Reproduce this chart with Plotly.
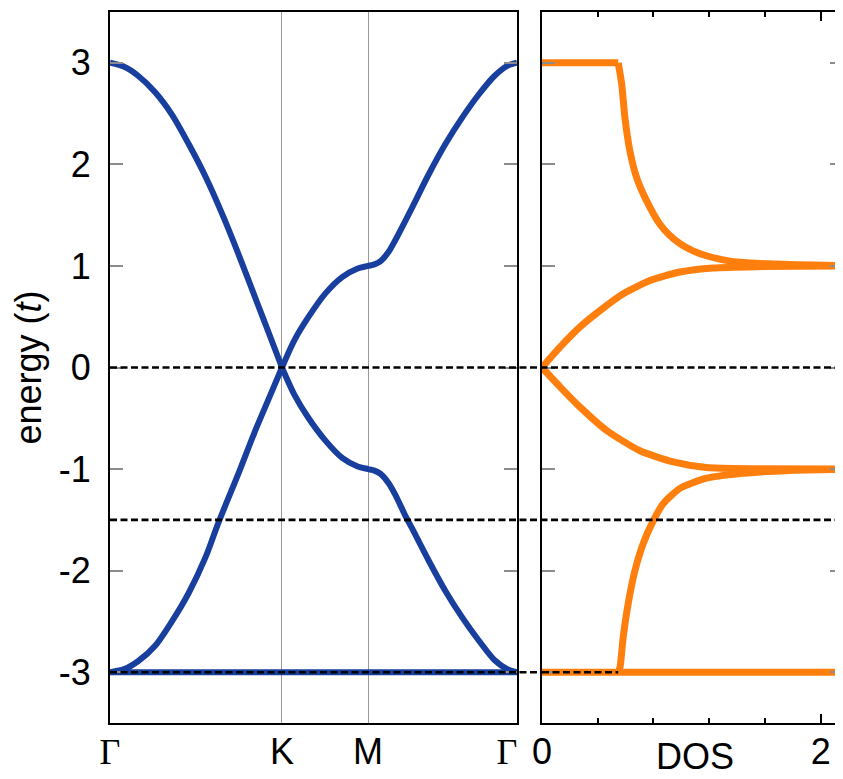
import plotly.graph_objects as go

# page body adds an 8px margin, so the figure is drawn 8px smaller
W, H = 835, 771

# ---- band structure (path Γ-K-M-Γ) ----
k_ticks = [0.0, 1.333, 2.0, 3.155]
k_labels = ["Γ", "K", "M", "Γ"]

k_upper = [0.0, 0.11, 0.22, 0.35, 0.48, 0.61, 0.74, 0.88, 1.01, 1.14, 1.24, 1.333,
           None,
           1.333, 1.43, 1.54, 1.67, 1.80, 1.92, 2.0, 2.05, 2.10, 2.16, 2.21, 2.34, 2.47, 2.60,
           2.73, 2.86, 2.98, 3.08, 3.155]
e_upper = [3.0, 2.96, 2.87, 2.71, 2.49, 2.20, 1.88, 1.48, 1.07, 0.64, 0.31, 0.0,
           None,
           0.0, 0.27, 0.50, 0.73, 0.89, 0.975, 1.0, 1.015, 1.05, 1.14, 1.25, 1.57, 1.90, 2.20,
           2.46, 2.69, 2.87, 2.97, 3.0]

k_middle = [0.0, 0.11, 0.22, 0.35, 0.48, 0.61, 0.74, 0.84, 1.00, 1.12, 1.25, 1.333,
            None,
            1.333, 1.43, 1.54, 1.67, 1.80, 1.92, 2.0, 2.05, 2.10, 2.16, 2.21, 2.29, 2.34, 2.47,
            2.60, 2.73, 2.86, 2.98, 3.08, 3.155]
e_middle = [-3.0, -2.97, -2.89, -2.74, -2.50, -2.22, -1.87, -1.53, -1.03, -0.64, -0.25, 0.0,
            None,
            0.0, -0.27, -0.50, -0.72, -0.89, -0.975, -1.0, -1.015, -1.05, -1.14, -1.25, -1.46, -1.58, -1.90,
            -2.20, -2.46, -2.69, -2.88, -2.97, -3.0]

k_flat = [0.0, 3.155]
e_flat = [-3.0, -3.0]

# ---- density of states ----
dos_x = [0.0, 0.547, None,
         0.547, 0.572, 0.595, 0.631, 0.679, 0.751, 0.846, 0.91, 0.99, 1.08, 1.18, 1.30, 1.42, 1.78, 2.16, None,
         2.16, 1.54, 1.229, 0.99, 0.775, 0.583, 0.416, 0.273, 0.129, 0.0, None,
         0.0, 0.129, 0.273, 0.464, 0.703, 0.942, 1.18, 1.54, 2.16, None,
         2.16, 1.78, 1.42, 1.18, 0.99, 0.87, 0.80, 0.727, 0.667, 0.619, 0.583, 0.56, 0.547]
dos_e = [3.0, 3.0, None,
         3.0, 2.79, 2.46, 2.13, 1.87, 1.64, 1.41, 1.31, 1.22, 1.15, 1.10, 1.06, 1.036, 1.013, 1.003, None,
         1.0, 0.993, 0.98, 0.94, 0.856, 0.725, 0.56, 0.40, 0.20, 0.0, None,
         0.0, -0.19, -0.39, -0.62, -0.82, -0.93, -0.985, -0.997, -1.0, None,
         -1.004, -1.013, -1.045, -1.09, -1.19, -1.34, -1.505, -1.73, -2.0, -2.32, -2.65, -2.95, -3.0]
dos_flat_x = [0.0, 2.16]
dos_flat_e = [-3.0, -3.0]
dos_edge = 0.547

dos_ticks = [0, 2]
dos_ticklabels = ["0", "2"]
dos_minor = [0.4, 0.8, 1.2, 1.6, 2.0]

e_ticks = [-3, -2, -1, 0, 1, 2, 3]
e_ticklabels = ["-3", "-2", "-1", "0", "1", "2", "3"]
dash_levels = [0.0, -1.5]

BLUE = "#183f9e"
ORANGE = "#ff7f0e"
FONT = "Arial, Liberation Sans, Helvetica, sans-serif"
SERIF = "Liberation Serif, Times New Roman, serif"
FS = 36

dom_left = [102 / W, 509 / W]
dom_right = [534 / W, 1.0]
PLOT_H = H - 4 - 56

fig = go.Figure()
fig.add_trace(go.Scatter(x=k_flat, y=e_flat, mode="lines",
                         line=dict(color=BLUE, width=6), xaxis="x", yaxis="y"))
fig.add_trace(go.Scatter(x=k_middle, y=e_middle, mode="lines",
                         line=dict(color=BLUE, width=6, shape="spline", smoothing=0.8),
                         xaxis="x", yaxis="y"))
fig.add_trace(go.Scatter(x=k_upper, y=e_upper, mode="lines",
                         line=dict(color=BLUE, width=6, shape="spline", smoothing=0.8),
                         xaxis="x", yaxis="y"))
fig.add_trace(go.Scatter(x=dos_flat_x, y=dos_flat_e, mode="lines",
                         line=dict(color=ORANGE, width=7), xaxis="x2", yaxis="y2"))
fig.add_trace(go.Scatter(x=dos_x, y=dos_e, mode="lines",
                         line=dict(color=ORANGE, width=7, shape="spline", smoothing=0.6),
                         xaxis="x2", yaxis="y2"))
# invisible trace so that the right-hand tick axis is drawn
fig.add_trace(go.Scatter(x=[0], y=[0], mode="lines", line=dict(width=0),
                         xaxis="x2", yaxis="y3", hoverinfo="skip"))

dash_style = dict(color="black", width=2.6, dash="7px,3.5px")
shapes = []
for lv in dash_levels:
    shapes.append(dict(type="line", xref="paper", yref="y", x0=dom_left[0], x1=1.0,
                       y0=lv, y1=lv, layer="above", line=dash_style))
shapes.append(dict(type="line", xref="paper", yref="y", x0=dom_left[0], x1=dom_right[0],
                   y0=-3.0, y1=-3.0, layer="above", line=dash_style))
shapes.append(dict(type="line", xref="x2", yref="y2", x0=0, x1=dos_edge,
                   y0=-3.0, y1=-3.0, layer="above", line=dash_style))

k_ticktext = [f'<span style="font-family:{SERIF}">{t}</span>' if t == "Γ" else t
              for t in k_labels]
k_ticktext[-1] = k_ticktext[-1] + "\u00a0\u00a0"

common_y = dict(range=[-3.5, 3.5], tickvals=e_ticks, ticktext=e_ticklabels,
                ticks="inside", ticklen=13, tickcolor="#8c8c8c", tickwidth=1.5,
                showgrid=False, zeroline=False, automargin=False)

fig.update_layout(
    width=W, height=H,
    margin=dict(l=0, r=0, t=4, b=56, autoexpand=False),
    paper_bgcolor="white", plot_bgcolor="white",
    showlegend=False,
    font=dict(family=FONT, size=FS, color="black"),
    xaxis=dict(domain=dom_left, range=[0, 3.155], tickvals=k_ticks, ticktext=k_ticktext,
               ticks="", showgrid=True, gridcolor="#999999", gridwidth=1.2,
               showline=True, linecolor="black", linewidth=2, mirror=True,
               zeroline=False, anchor="y", ticklabelstandoff=-4, automargin=False,
               tickfont=dict(size=FS)),
    yaxis=dict(domain=[0, 1], anchor="x", showline=True, linecolor="black", linewidth=2,
               mirror="ticks", ticklabelstandoff=10, tickfont=dict(size=FS), **common_y),
    xaxis2=dict(domain=dom_right, range=[0, 2.16], tickvals=dos_ticks, ticktext=dos_ticklabels,
                ticks="inside", ticklen=9, tickcolor="black", tickwidth=1.5,
                minor=dict(tickvals=dos_minor, ticks="inside", ticklen=5,
                           tickcolor="black", tickwidth=1.5),
                showline=True, linecolor="black", linewidth=2, mirror="ticks",
                showgrid=False, zeroline=False, anchor="y2", ticklabelstandoff=-4,
                automargin=False, tickfont=dict(size=FS)),
    yaxis2=dict(domain=[0, 1], anchor="x2", showline=True, linecolor="black", linewidth=2,
                showticklabels=False, **common_y),
    yaxis3=dict(overlaying="y2", side="right", anchor="x2", showline=False,
                showticklabels=False, **common_y),
    shapes=shapes,
    annotations=[
        dict(text="energy (<i>t</i>)", xref="paper", yref="paper", x=20 / W, y=0.5,
             textangle=-90, showarrow=False, xanchor="center", yanchor="middle",
             font=dict(size=FS)),
        dict(text="DOS", xref="paper", yref="paper", x=687 / W, y=-33 / PLOT_H,
             showarrow=False, xanchor="center", yanchor="middle", font=dict(size=FS)),
    ],
)

fig.write_html("out.html")
